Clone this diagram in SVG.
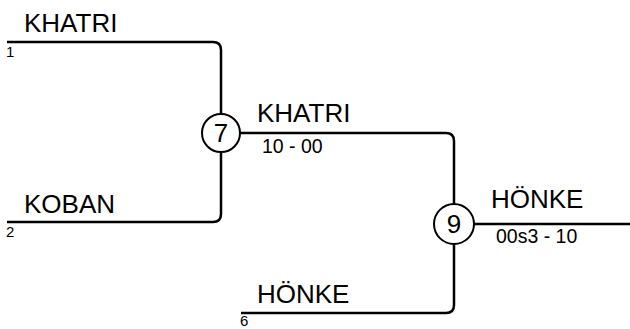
<svg xmlns="http://www.w3.org/2000/svg" width="630" height="329" viewBox="0 0 630 329">
<style>
.ln{fill:none;stroke:#000;stroke-width:2.5}
.c{fill:#fff;stroke:#000;stroke-width:2}
.t{font-family:"Liberation Sans",Arial,sans-serif;fill:#000}
.big{font-size:26px}
.mid{font-size:19.5px}
.sm{font-size:15px}
</style>
<rect width="630" height="329" fill="#fff"/>
<g id="connectors">
<path class="ln" d="M7,42 H213 Q221,42 221,50 V114"/>
<path class="ln" d="M7,222 H213 Q221,222 221,214 V152"/>
<path class="ln" d="M240,133 H446 Q454,133 454,141 V204"/>
<path class="ln" d="M241,313 H446 Q454,313 454,305 V244"/>
<path class="ln" d="M474,224 H630"/>
</g>
<g id="entry1">
<text class="t sm" x="6" y="57">1</text>
<text class="t big" x="24" y="32">KHATRI</text>
</g>
<g id="entry2">
<text class="t big" x="24" y="213">KOBAN</text>
<text class="t sm" x="6" y="237">2</text>
</g>
<g id="entry6">
<text class="t big" x="257" y="303">HÖNKE</text>
<text class="t sm" x="240" y="326">6</text>
</g>
<g id="match7">
<circle class="c" cx="221" cy="133" r="19"/>
<text class="t big" x="221" y="142" text-anchor="middle">7</text>
<text class="t big" x="257" y="122">KHATRI</text>
<text class="t mid" x="262" y="153">10 - 00</text>
</g>
<g id="match9">
<circle class="c" cx="454" cy="224" r="20"/>
<text class="t big" x="454" y="233" text-anchor="middle">9</text>
<text class="t big" x="491" y="208">HÖNKE</text>
<text class="t mid" x="496" y="243">00s3 - 10</text>
</g>
</svg>
